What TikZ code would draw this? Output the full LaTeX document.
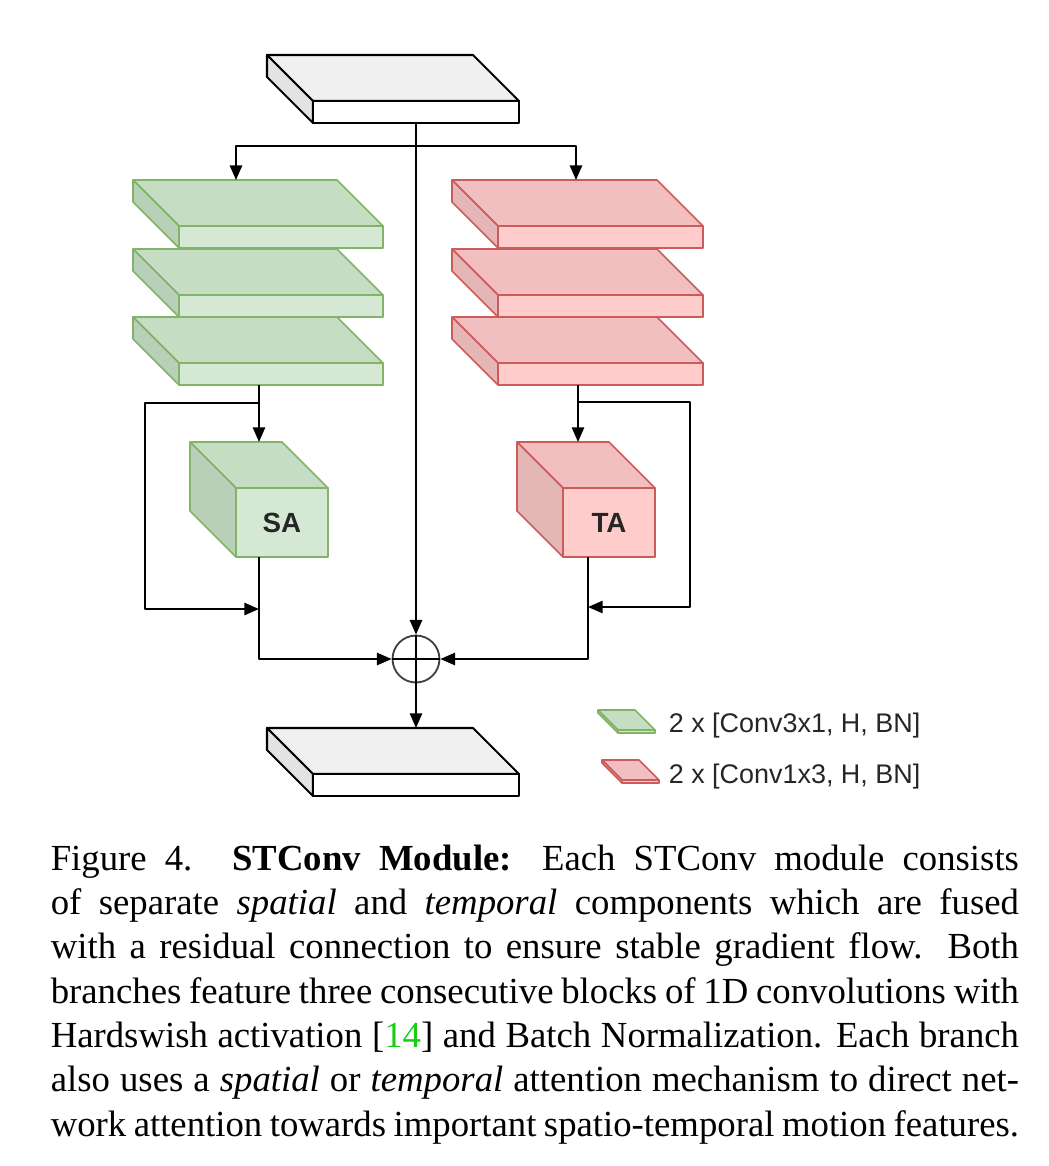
\documentclass[tikz,border=0pt]{standalone}
\usepackage{tikz}
\usepackage{fontspec}
\setmainfont{Liberation Serif}
\setsansfont{Liberation Sans}
\usetikzlibrary{arrows.meta}

\definecolor{citegreen}{rgb}{0.1,0.8,0.1}
\definecolor{gfront}{HTML}{D5E8D4}
\definecolor{gtop}{HTML}{C4DDC3}
\definecolor{gside}{HTML}{B8D0B7}
\definecolor{gline}{HTML}{82B366}
\definecolor{rfront}{HTML}{FFCCCC}
\definecolor{rtop}{HTML}{F1BFBF}
\definecolor{rside}{HTML}{E4B6B6}
\definecolor{rline}{HTML}{CC5C5C}

\tikzstyle{gray top}    = [draw=black, line width=0.5pt, fill=black!6]
\tikzstyle{gray side}   = [draw=black, line width=0.5pt, fill=black!11]
\tikzstyle{gray front}  = [draw=black, line width=0.5pt, fill=white]
\tikzstyle{green top}   = [draw=gline, line width=0.4pt, fill=gtop]
\tikzstyle{green side}  = [draw=gline, line width=0.4pt, fill=gside]
\tikzstyle{green front} = [draw=gline, line width=0.4pt, fill=gfront]
\tikzstyle{red top}     = [draw=rline, line width=0.4pt, fill=rtop]
\tikzstyle{red side}    = [draw=rline, line width=0.4pt, fill=rside]
\tikzstyle{red front}   = [draw=rline, line width=0.4pt, fill=rfront]
\tikzstyle{conn}        = [line width=0.5pt, -{Triangle[length=3.6pt,width=3pt]}]

% slab: name, colour, front corner x, y, width, height, depth
\newcommand{\slab}[7]{%
  \draw[#2 top]  (#3,#4) -- ++(-#7,-#7) -- ++(#5,0) -- ++(#7,#7) -- cycle;
  \draw[#2 side] (#3,#4) -- ++(-#7,-#7) -- ++(0,#6) -- ++(#7,#7) -- cycle;
  \node[#2 front, anchor=north west, inner sep=0, outer sep=0,
        minimum width=#5*0.245pt, minimum height=#6*0.245pt] (#1) at (#3,#4) {};
  \path (#3,#4) ++(-#7,-#7) coordinate (#1-rear);
}

\begin{document}
\begin{tikzpicture}[x=0.245pt, y=-0.245pt, line join=round]
\tikzstyle{att label}   = [font=\sffamily\bfseries\fontsize{6.8}{8}\selectfont, text=black!85]
\tikzstyle{legend text} = [font=\sffamily\fontsize{6.6}{8}\selectfont, text=black!85, anchor=west, inner sep=0]
\tikzstyle{sum circle}  = [circle, draw=black!75, line width=0.45pt, minimum size=11.5pt, inner sep=0]

    \useasboundingbox (0,0) rectangle (1048,1166);

    \slab{in}{gray}{313}{101}{206}{22}{46}

    \slab{g1}{green}{179}{226}{204}{22}{46}
    \slab{g2}{green}{179}{295}{204}{22}{46}
    \slab{g3}{green}{179}{363}{204}{22}{46}
    \slab{r1}{red}{498}{226}{205}{22}{46}
    \slab{r2}{red}{498}{295}{205}{22}{46}
    \slab{r3}{red}{498}{363}{205}{22}{46}

    \slab{sa}{green}{236}{488}{92}{69}{46}
    \slab{ta}{red}{563}{488}{92}{69}{46}
    \node[att label] (satext) at (sa) {SA};
    \node[att label] (tatext) at (ta) {TA};

    \slab{out}{gray}{313}{774}{206}{22}{46}

    \node[sum circle] (sum) at (416,659) {};
    \draw[line width=0.5pt] (sum.north) -- (sum.south) (sum.west) -- (sum.east);

    \coordinate (fork)   at (416,146);
    \coordinate (gin)    at (236,180);
    \coordinate (rin)    at (576,180);
    \coordinate (gsplit) at (259,403);
    \coordinate (gskip)  at (145,609);
    \coordinate (rsplit) at (578,402);
    \coordinate (rskip)  at (690,607);
    \coordinate (rjoin)  at (588,607);

    \draw[conn] (in.south) -- (sum.north);
    \draw[conn] (fork) -| (gin);
    \draw[conn] (fork) -| (rin);

    \draw[conn] (g3.south -| gsplit) -- (gsplit |- sa-rear);
    \draw[conn] (gsplit) -| (gskip) -- (gskip -| gsplit);
    \draw[conn] (sa.south -| gsplit) |- (sum.west);

    \draw[conn] (r3.south -| rsplit) -- (rsplit |- ta-rear);
    \draw[conn] (rsplit) -| (rskip) -- (rjoin);
    \draw[conn] (ta.south -| rjoin) |- (sum.east);

    \draw[conn] (sum.south) -- (sum.south |- out-rear);

    % legend
    \slab{lg}{green}{618}{730}{37}{3}{20}
    \slab{lr}{red}{622}{780}{37}{3}{20}
    \node[legend text] (lgtext) at (668,726) {2 x [Conv3x1, H, BN]};
    \node[legend text] (lrtext) at (668,777) {2 x [Conv1x3, H, BN]};

    \node[anchor=north west, inner sep=0, text width=237.2pt, align=justify,
          font=\fontsize{9}{10.85}\selectfont] (caption) at (50,844)
    {Figure 4.\hskip 0.7em plus 0.2em\textbf{STConv Module:} Each STConv module consists\linebreak
     of separate \emph{spatial} and \emph{temporal} components which are fused\linebreak
     with a residual connection to ensure stable gradient flow. Both\linebreak
     branches feature three consecutive blocks of 1D convolutions with\linebreak
     Hardswish activation [\textcolor{citegreen}{14}] and Batch Normalization. Each branch\linebreak
     also uses a \emph{spatial} or \emph{temporal} attention mechanism to direct net-\linebreak
     work attention towards important spatio-temporal motion features.};

\end{tikzpicture}
\end{document}
